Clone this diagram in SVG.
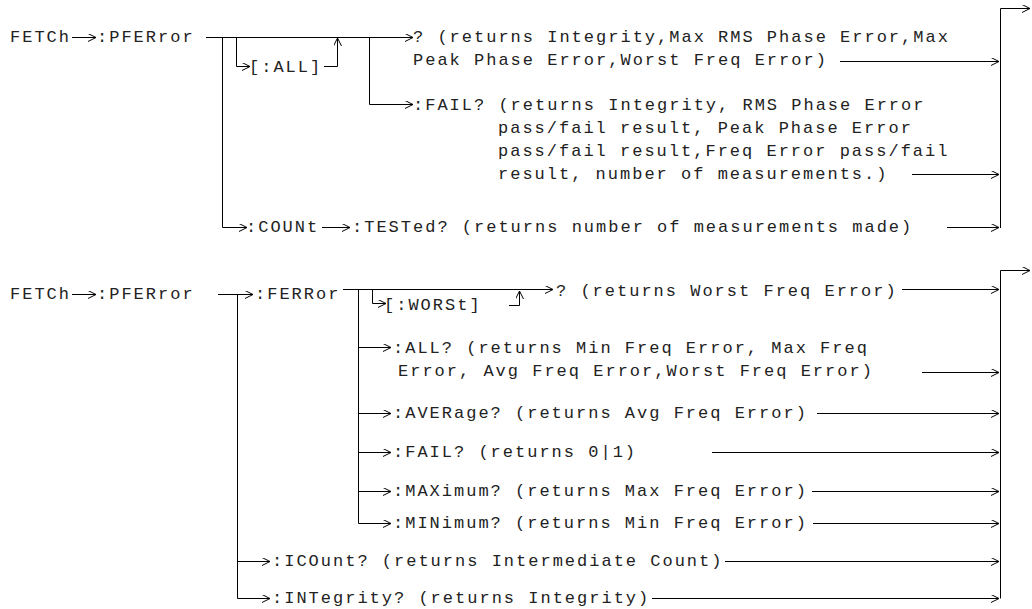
<svg xmlns="http://www.w3.org/2000/svg" width="1032" height="609" viewBox="0 0 1032 609">
<style>
text{font-family:"Liberation Mono","Courier New",monospace;font-size:17px;letter-spacing:2px;fill:#222;white-space:pre}
.c path{fill:none;stroke:#000;stroke-width:1}
.a{marker-end:url(#ah)}
</style>
<defs>
<marker id="ah" markerWidth="10" markerHeight="10" refX="8" refY="4" orient="auto" markerUnits="userSpaceOnUse" viewBox="0 0 10 10">
<path d="M0,0 L8,4 L0,8" fill="none" stroke="#000" stroke-width="1"/>
</marker>
</defs>
<rect width="1032" height="609" fill="#fff"/>
<g class="c" id="connectors">
<path class="a" d="M72,37.5 H96"/>
<path class="a" d="M206,37.5 H413"/>
<path class="a" d="M222.5,37.5 V227.5 H247"/>
<path class="a" d="M236.5,37.5 V66.5 H250"/>
<path class="a" d="M324,66.5 H337.5 V38"/>
<path class="a" d="M369.5,37.5 V104.5 H413"/>
<path class="a" d="M322,227.5 H350"/>
<path class="a" d="M840,61.5 H999"/>
<path class="a" d="M912,174.5 H999"/>
<path class="a" d="M947,227.5 H999"/>
<path d="M1000.5,228 V8.5"/>
<path class="a" d="M1000.5,8.5 H1030"/>
<path class="a" d="M72,294.5 H96"/>
<path class="a" d="M218,294.5 H253"/>
<path class="a" d="M237.5,294.5 V598.5 H270"/>
<path class="a" d="M237.5,561.5 H270"/>
<path class="a" d="M343,289.5 H553"/>
<path class="a" d="M372.5,289.5 V303.5 H386"/>
<path class="a" d="M509,305.5 H519.5 V291"/>
<path class="a" d="M358.5,289.5 V523.5 H391"/>
<path class="a" d="M358.5,347.5 H391"/>
<path class="a" d="M358.5,413.5 H391"/>
<path class="a" d="M358.5,452.5 H391"/>
<path class="a" d="M358.5,491.5 H391"/>
<path class="a" d="M902,289.5 H999"/>
<path class="a" d="M922,372.5 H999"/>
<path class="a" d="M817,413.5 H999"/>
<path class="a" d="M712,452.5 H999"/>
<path class="a" d="M812,491.5 H999"/>
<path class="a" d="M813,523.5 H999"/>
<path class="a" d="M725,561.5 H999"/>
<path class="a" d="M652,598.5 H999"/>
<path d="M1000.5,598.5 V270.5"/>
<path class="a" d="M1000.5,270.5 H1030"/>
</g>
<g id="top-fetch"><text x="10" y="42">FETCh</text></g>
<g id="top-pferror"><text x="97" y="42">:PFERror</text></g>
<g id="top-all"><text x="249" y="72">[:ALL]</text></g>
<g id="top-query"><text x="413" y="42">? (returns Integrity,Max RMS Phase Error,Max</text><text x="413" y="65">Peak Phase Error,Worst Freq Error)</text></g>
<g id="top-fail"><text x="413" y="110">:FAIL? (returns Integrity, RMS Phase Error</text><text x="498" y="133">pass/fail result, Peak Phase Error</text><text x="498" y="156">pass/fail result,Freq Error pass/fail</text><text x="498" y="179">result, number of measurements.)</text></g>
<g id="top-count"><text x="246" y="232">:COUNt</text></g>
<g id="top-tested"><text x="352" y="232">:TESTed? (returns number of measurements made)</text></g>
<g id="bot-fetch"><text x="10" y="299">FETCh</text></g>
<g id="bot-pferror"><text x="97" y="299">:PFERror</text></g>
<g id="bot-ferror"><text x="255" y="299">:FERRor</text></g>
<g id="bot-worst"><text x="384" y="310">[:WORSt]</text></g>
<g id="bot-query"><text x="556" y="296">? (returns Worst Freq Error)</text></g>
<g id="bot-all"><text x="393" y="353">:ALL? (returns Min Freq Error, Max Freq</text><text x="398" y="376">Error, Avg Freq Error,Worst Freq Error)</text></g>
<g id="bot-average"><text x="393" y="418">:AVERage? (returns Avg Freq Error)</text></g>
<g id="bot-fail"><text x="393" y="457">:FAIL? (returns 0|1)</text></g>
<g id="bot-maximum"><text x="393" y="496">:MAXimum? (returns Max Freq Error)</text></g>
<g id="bot-minimum"><text x="393" y="528">:MINimum? (returns Min Freq Error)</text></g>
<g id="bot-icount"><text x="272" y="566">:ICOunt? (returns Intermediate Count)</text></g>
<g id="bot-integrity"><text x="272" y="603">:INTegrity? (returns Integrity)</text></g>
</svg>
